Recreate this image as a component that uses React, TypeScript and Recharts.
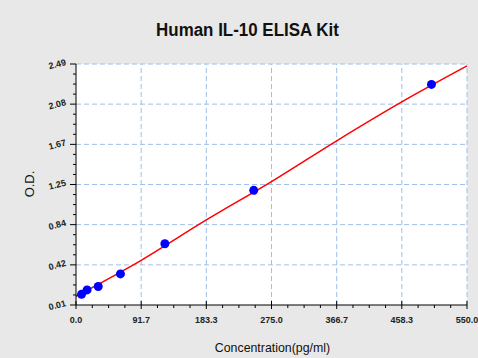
import React from 'react';
import {ComposedChart, Line, Scatter, XAxis, YAxis, CartesianGrid, ReferenceLine} from 'recharts';

// standards
const conc = [7.8, 15.6, 31.25, 62.5, 125, 250, 500];
const od = [0.12, 0.165, 0.2, 0.33, 0.64, 1.19, 2.28];

// fitted curve read at the x grid positions
const curveConc = [0, 91.7, 183.3, 275, 366.7, 458.3, 550];
const curveOd = [0.1, 0.47, 0.885, 1.28, 1.7, 2.1, 2.47];

const xTicks = [0, 91.7, 183.3, 275, 366.7, 458.3, 550];
const xLabels = ['0.0', '91.7', '183.3', '275.0', '366.7', '458.3', '550.0'];
const yTicks = [0.01, 0.423, 0.837, 1.25, 1.663, 2.077, 2.49];
const yLabels = ['0.01', '0.42', '0.84', '1.25', '1.67', '2.08', '2.49'];

const points = conc.map((c, i) => ({conc: c, od: od[i]}));
const curve = curveConc.map((c, i) => ({conc: c, od: curveOd[i]}));

const withMinor = (major: number[]) => {
  const out: number[] = [];
  major.forEach((v, i) => {
    out.push(v);
    if (i < major.length - 1) {
      const step = (major[i + 1] - v) / 4;
      for (let k = 1; k < 4; k++) out.push(v + step * k);
    }
  });
  return out;
};

const FONT = '"Liberation Sans Narrow", "Liberation Sans", Arial, sans-serif';

const XTick = (props: any) => {
  const {x, y, payload} = props;
  const i = xTicks.indexOf(payload.value);
  const major = i >= 0;
  return (
    <g>
      <line x1={x} x2={x} y1={major ? y - 4 : y} y2={y + (major ? 4 : 3)} stroke="#000" />
      {major && (
        <text x={x} y={y + 18} textAnchor="middle" fontSize={9} fontWeight="bold" fill="#222" fontFamily={FONT}>
          {xLabels[i]}
        </text>
      )}
    </g>
  );
};

const YTick = (props: any) => {
  const {x, y, payload} = props;
  const i = yTicks.indexOf(payload.value);
  const major = i >= 0;
  return (
    <g>
      <line x1={x - (major ? 6 : 3)} x2={x} y1={y} y2={y} stroke="#000" />
      {major && (
        <text x={x - 10} y={y + 3} textAnchor="end" fontSize={9} fontWeight="bold" fill="#222" fontFamily={FONT}
          transform={`rotate(-15, ${x - 18}, ${y})`}>
          {yLabels[i]}
        </text>
      )}
    </g>
  );
};

export default function App() {
  return (
    <div style={{position: 'absolute', left: 0, top: 0, width: 478, height: 358, background: '#e8e8e8', fontFamily: FONT}}>
      <div style={{position: 'absolute', top: 20, left: 0, width: 495, textAlign: 'center', fontSize: 18, fontWeight: 'bold',
        color: '#111', transform: 'scaleX(0.94)', transformOrigin: '247px 0'}}>
        Human IL-10 ELISA Kit
      </div>
      <div style={{position: 'absolute', top: 340, left: 0, width: 545, textAlign: 'center', fontSize: 13, color: '#111',
        transform: 'scaleX(0.95)', transformOrigin: '272px 0'}}>
        Concentration(pg/ml)
      </div>
      <div style={{position: 'absolute', left: 29, top: 184, transform: 'translate(-50%, -50%) rotate(-90deg)', fontSize: 13, color: '#111'}}>
        O.D.
      </div>
      <ComposedChart width={478} height={358} margin={{top: 64, right: 11, left: 26, bottom: 28}}
        style={{position: 'absolute', left: 0, top: 0}}>
        <CartesianGrid horizontal={false} vertical={false} fill="#ffffff" />
        {xTicks.slice(1).map(v => (
          <ReferenceLine key={'x' + v} x={v} stroke="#9fbfe6" strokeDasharray="5 3" />
        ))}
        {yTicks.slice(1).map(v => (
          <ReferenceLine key={'y' + v} y={v} stroke="#9fbfe6" strokeDasharray="5 3" />
        ))}
        <XAxis type="number" dataKey="conc" domain={[0, 550]} ticks={withMinor(xTicks)} interval={0}
          tickSize={0} tickMargin={0} tickLine={false} stroke="#000" height={25} tick={<XTick />} />
        <YAxis type="number" dataKey="od" domain={[0.01, 2.49]} ticks={withMinor(yTicks)} interval={0}
          tickSize={0} tickMargin={0} tickLine={false} stroke="#000" width={50} tick={<YTick />} />
        <Line data={curve} dataKey="od" type="monotone" stroke="#ff0000" strokeWidth={1.5} dot={false}
          isAnimationActive={false} />
        <Scatter data={points} dataKey="od" fill="#0000ff" isAnimationActive={false}
          shape={(p: any) => <circle cx={p.cx} cy={p.cy} r={4.5} fill="#0000ff" />} />
      </ComposedChart>
    </div>
  );
}
